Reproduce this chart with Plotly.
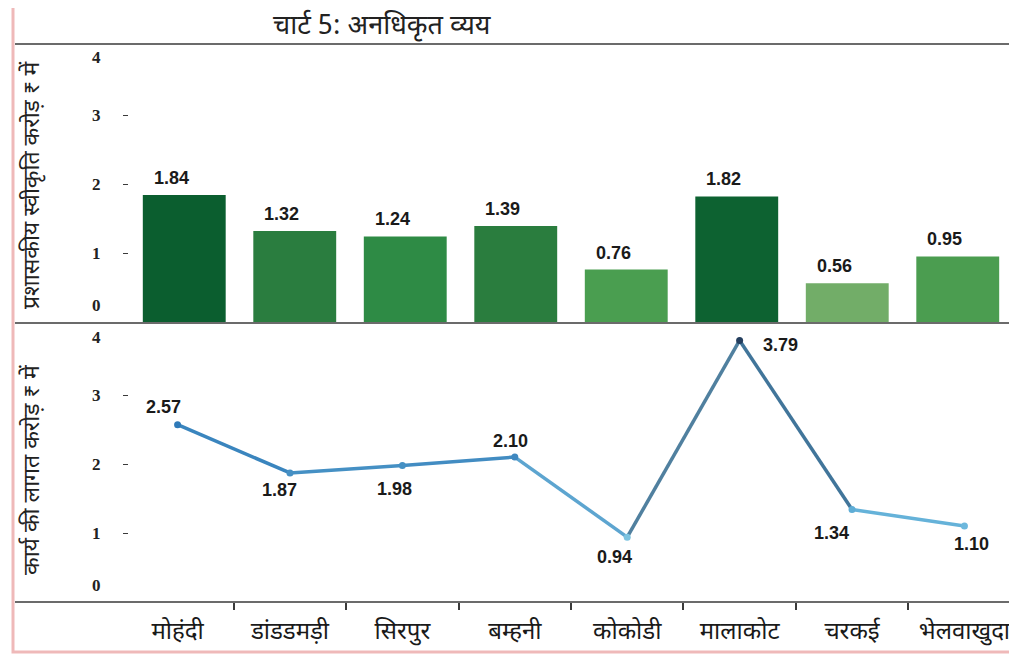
import plotly.graph_objects as go
from plotly.colors import hex_to_rgb

# ---------------- data ----------------
categories = ["मोहंदी", "डांडडमड़ी", "सिरपुर", "बम्हनी", "कोकोडी", "मालाकोट", "चरकई", "भेलवाखुदा"]
approval_values = [1.84, 1.32, 1.24, 1.39, 0.76, 1.82, 0.56, 0.95]
cost_values = [2.57, 1.87, 1.98, 2.10, 0.94, 3.79, 1.34, 1.10]
y_tick_values = [0, 1, 2, 3, 4]
y_tick_labels = ["0", "1", "2", "3", "4"]
title_text = "चार्ट 5: अनधिकृत व्यय"
top_axis_title = "प्रशासकीय स्वीकृति करोड़ ₹ में"
bottom_axis_title = "कार्य की लागत करोड़ ₹ में"

# ---------------- styles ----------------
bar_colors = ["#0B5E2F", "#2A7D3F", "#2E8B45", "#2A7D3E", "#4A9E50", "#0D6231", "#72AD68", "#4B9D50"]
point_colors = ["#2F7AB8", "#4690C4", "#4590C4", "#3F88C0", "#7CC3E0", "#243E5E", "#5EADD6", "#6DB8DD"]
# label offsets (px) for the line labels
line_label_shift = [(-14, 18), (-10, -17), (-8, -24), (-4, 16), (-13, -20), (41, -5), (-21, -23), (7, -18)]

# page body has an 8px margin: figure is sized to end exactly at the window edge
W, H = 1009, 647
ML, MR, MT, MB = 121, 4, 38, 53
PW, PH = W - ML - MR, H - MT - MB


def px_x(p):
    # p given in window pixels
    return (p - 8 - ML) / PW


def px_y(p):
    return (H - MB - (p - 8)) / PH


def blend(c1, c2):
    a, b = hex_to_rgb(c1), hex_to_rgb(c2)
    return "rgb({},{},{})".format(*[int((x + y) / 2) for x, y in zip(a, b)])


num_font = dict(family="Liberation Sans, Arial", size=18, color="#1a1a1a")
hindi_font = "Noto Sans Devanagari, Lohit Devanagari, Mangal, FreeSans, sans-serif"

fig = go.Figure()

# bars (top panel)
fig.add_trace(go.Bar(
    x=categories, y=approval_values, marker=dict(color=bar_colors, line=dict(width=0)),
    xaxis="x2", yaxis="y2", showlegend=False, hoverinfo="x+y"))

# line (bottom panel) - segment by segment to mimic the gradient
for i in range(len(categories) - 1):
    fig.add_trace(go.Scatter(
        x=categories[i:i + 2], y=cost_values[i:i + 2], mode="lines",
        line=dict(color=blend(point_colors[i], point_colors[i + 1]), width=3.5),
        xaxis="x", yaxis="y", showlegend=False, hoverinfo="skip"))
fig.add_trace(go.Scatter(
    x=categories, y=cost_values, mode="markers",
    marker=dict(color=point_colors, size=7),
    xaxis="x", yaxis="y", showlegend=False))

annotations = []
# bar value labels
for c, v in zip(categories, approval_values):
    annotations.append(dict(x=c, y=v, xref="x2", yref="y2", text=f"<b>{v:.2f}</b>",
                            xanchor="center", yanchor="middle",
                            showarrow=False, yshift=17, xshift=-13, font=num_font))
# line value labels
for c, v, (dx, dy) in zip(categories, cost_values, line_label_shift):
    annotations.append(dict(x=c, y=v, xref="x", yref="y", text=f"<b>{v:.2f}</b>",
                            xanchor="center", yanchor="middle",
                            showarrow=False, xshift=dx, yshift=dy, font=num_font))

# y tick labels (drawn as annotations so 0 and 4 sit inside like the reference)
tick_font = dict(family="Liberation Serif, Times New Roman, serif", size=17, color="#222")
for yref in ("y2", "y"):
    shifts = {0: 17, 4: -11}
    for tv, tl in zip(y_tick_values, y_tick_labels):
        annotations.append(dict(x=px_x(96), y=tv, xref="paper", yref=yref, text=f"<b>{tl}</b>",
                                xanchor="center", yanchor="middle",
                                showarrow=False, yshift=shifts.get(tv, 0), font=tick_font))

# title
annotations.append(dict(x=px_x(382), y=px_y(27), xref="paper", yref="paper", text=title_text,
                        xanchor="center", yanchor="middle",
                        showarrow=False, font=dict(family=hindi_font, size=27, color="#222")))
# axis titles
annotations.append(dict(x=px_x(33), y=px_y(185), xref="paper", yref="paper", text=top_axis_title,
                        textangle=-90, showarrow=False, xanchor="center", yanchor="middle",
                        font=dict(family=hindi_font, size=23, color="#222")))
annotations.append(dict(x=px_x(33), y=px_y(470), xref="paper", yref="paper", text=bottom_axis_title,
                        textangle=-90, showarrow=False, xanchor="center", yanchor="middle",
                        font=dict(family=hindi_font, size=23, color="#222")))

line_col = "#3a3a3a"
shapes = [
    # horizontal rules
    dict(type="line", xref="paper", yref="paper", x0=px_x(15), x1=px_x(1011), y0=px_y(44), y1=px_y(44),
         line=dict(color=line_col, width=1.5)),
    dict(type="line", xref="paper", yref="paper", x0=px_x(15), x1=px_x(1011), y0=px_y(323), y1=px_y(323),
         line=dict(color=line_col, width=1.5)),
    dict(type="line", xref="paper", yref="paper", x0=px_x(15), x1=px_x(1011), y0=px_y(602), y1=px_y(602),
         line=dict(color=line_col, width=1.5)),
    # pink frame
    dict(type="rect", xref="paper", yref="paper", x0=px_x(13), x1=px_x(1013), y0=px_y(652), y1=px_y(3),
         line=dict(color="#EFB9B9", width=3)),
    dict(type="line", xref="paper", yref="paper", x0=px_x(13), x1=px_x(1013), y0=px_y(2.5), y1=px_y(2.5),
         line=dict(color="#E98A8A", width=2)),
]

top_dom = [px_y(322), 1]
bot_dom = [0, px_y(326)]

fig.update_layout(
    width=W, height=H,
    margin=dict(l=ML, r=MR, t=MT, b=MB),
    paper_bgcolor="white", plot_bgcolor="white",
    bargap=0.25,
    showlegend=False,
    annotations=annotations,
    shapes=shapes,
    xaxis=dict(domain=[0, 1], anchor="y", type="category", categoryorder="array",
               categoryarray=categories, showgrid=False, zeroline=False, showline=False,
               ticks="outside", tickson="boundaries", ticklen=7, tickcolor=line_col, tickwidth=1.5,
               ticklabelstandoff=12,
               tickfont=dict(family=hindi_font, size=24, color="#1a1a1a")),
    yaxis=dict(domain=bot_dom, anchor="x", range=[0, 4], showgrid=False, zeroline=False,
               showline=False, tickvals=[1, 2, 3], ticks="outside", ticklen=5,
               tickcolor=line_col, showticklabels=False),
    xaxis2=dict(domain=[0, 1], anchor="y2", type="category", categoryorder="array",
                categoryarray=categories, showgrid=False, zeroline=False, showline=False,
                showticklabels=False, ticks=""),
    yaxis2=dict(domain=top_dom, anchor="x2", range=[0, 4], showgrid=False, zeroline=False,
                showline=False, tickvals=[1, 2, 3], ticks="outside", ticklen=5,
                tickcolor=line_col, showticklabels=False),
)

fig.write_html("out.html")
